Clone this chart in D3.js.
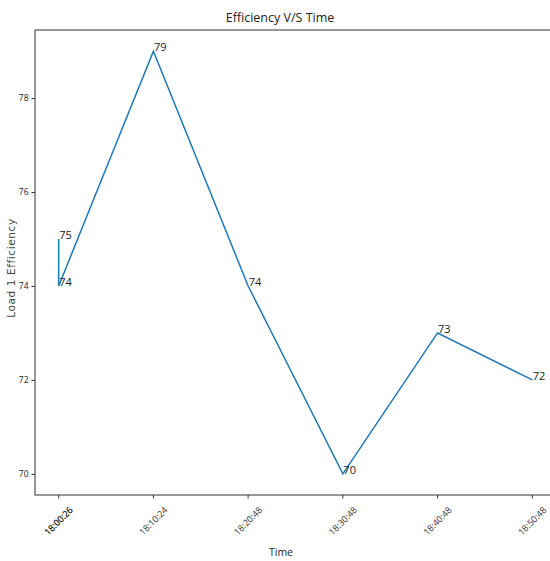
<!DOCTYPE html>
<html>
<head>
<meta charset="utf-8">
<script src="https://cdn.jsdelivr.net/npm/d3@7"></script>
<style>
  body { margin: 0; background: #fff; }
  svg { display: block; }
  text { font-family: "Open Sans", "DejaVu Sans", sans-serif; fill: #222; }
</style>
</head>
<body>
<svg></svg>
<script>
let width = 550;
let height = 561;

// data
let times = ["18:00:26", "18:00:26", "18:10:24", "18:20:48", "18:30:48", "18:40:48", "18:50:48"];
let efficiency = [75, 74, 79, 74, 70, 73, 72];
let yTicks = [70, 72, 74, 76, 78];

let plotLeft = 35, plotRight = 556, plotTop = 30, plotBottom = 495;

let points = times.map((t, i) => ({time: t, value: efficiency[i]}));
let cats = Array.from(new Set(times));

let svg = d3.select("svg")
    .attr("width", width)
    .attr("height", height);

// categorical x, with matplotlib-ish 5% margins
let scaleX = d3.scaleLinear()
    .domain([-0.25, cats.length - 1 + 0.25])
    .range([plotLeft, plotRight]);
let xPos = t => scaleX(cats.indexOf(t));

let scaleY = d3.scaleLinear()
    .domain([69.55, 79.45])
    .range([plotBottom, plotTop]);

// frame
svg.append("rect")
    .attr("x", plotLeft)
    .attr("y", plotTop)
    .attr("width", plotRight - plotLeft)
    .attr("height", plotBottom - plotTop)
    .attr("fill", "none")
    .attr("stroke", "#333")
    .attr("stroke-width", 1);

// y axis
let axisY = d3.axisLeft(scaleY).tickValues(yTicks).tickSize(3.5).tickPadding(3);
let gy = svg.append("g")
    .attr("transform", `translate(${plotLeft}, 0)`)
    .call(axisY);
gy.select(".domain").remove();
gy.selectAll("line").attr("stroke", "#333");
gy.selectAll("text").style("font-size", "8.5px").attr("fill", "#333");

// x axis ticks
let gx = svg.append("g")
    .attr("transform", `translate(0, ${plotBottom})`);
gx.selectAll("line")
    .data(cats)
    .enter()
    .append("line")
    .attr("x1", d => xPos(d))
    .attr("x2", d => xPos(d))
    .attr("y1", 0)
    .attr("y2", 3.5)
    .attr("stroke", "#333");

// tick labels, rotated 45 deg (first one drawn twice: duplicated timestamp)
let c = Math.SQRT1_2;
gx.selectAll("text.lbl")
    .data(times)
    .enter()
    .append("text")
    .attr("class", "lbl")
    .attr("transform", d => `matrix(${c},${-c},${c},${c},${xPos(d)},26)`)
    .attr("text-anchor", "middle")
    .attr("dy", "0.35em")
    .style("font-size", "9px")
    .style("fill", "#333")
    .text(d => d);

// line
let line = d3.line()
    .x(d => xPos(d.time))
    .y(d => scaleY(d.value));

svg.append("path")
    .datum(points)
    .attr("fill", "none")
    .attr("stroke", "#1f77b4")
    .attr("stroke-width", 1.5)
    .attr("d", line);

// value annotations
svg.selectAll(".ann")
    .data(points)
    .enter()
    .append("text")
    .attr("class", "ann")
    .attr("x", d => xPos(d.time) + 0.5)
    .attr("y", d => scaleY(d.value))
    .style("font-size", "11px")
    .text(d => d.value);

// title and labels
svg.append("text")
    .attr("x", 280)
    .attr("y", 22)
    .attr("text-anchor", "middle")
    .style("font-size", "12.5px")
    .text("Efficiency V/S Time");

svg.append("text")
    .attr("x", 281)
    .attr("y", 556)
    .attr("text-anchor", "middle")
    .style("font-size", "10.5px")
    .text("Time");

svg.append("text")
    .attr("transform", "translate(15, 268) rotate(-90)")
    .attr("text-anchor", "middle")
    .style("font-size", "10.5px")
    .style("font-family", "DejaVu Sans, sans-serif")
    .style("letter-spacing", "0.6px")
    .style("fill", "#444")
    .text("Load 1 Efficiency");
</script>
</body>
</html>
